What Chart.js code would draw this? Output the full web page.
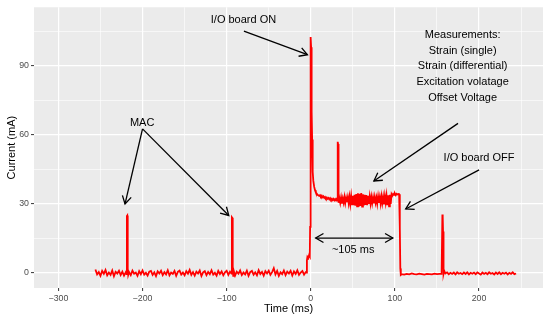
<!DOCTYPE html>
<html lang="en">
<head>
<meta charset="UTF-8">
<title>I/O board current</title>
<script src="https://cdn.jsdelivr.net/npm/chart.js"></script>
<style>
  html, body { margin: 0; padding: 0; background: #ffffff; }
  #wrap { width: 550px; height: 320px; }
</style>
</head>
<body>
<div id="wrap"><canvas id="chart" width="550" height="320"></canvas></div>
<script>
  const timeMs = [
    -256,-254,-252,-250,-248,-246,-244,-242,-240,-238,
    -236,-234,-232,-230,-228,-226,-224,-222,-220,
    -219,-218.6,-218.2,-217.8,-217.4,-217,
    -216,-214,-212,-210,-208,-206,-204,-202,-200,-198,
    -196,-194,-192,-190,-188,-186,-184,-182,-180,-178,
    -176,-174,-172,-170,-168,-166,-164,-162,-160,-158,
    -156,-154,-152,-150,-148,-146,-144,-142,-140,-138,
    -136,-134,-132,-130,-128,-126,-124,-122,-120,-118,
    -116,-114,-112,-110,-108,-106,-104,-102,-100,-98,
    -96,
    -94.2,-93.8,-93.4,-93,-92.6,-92.2,-91.6,
    -90,-88,-86,-84,-82,-80,-78,-76,-74,-72,
    -70,-68,-66,-64,-62,-60,-58,-56,-54,-52,
    -50,-48,-46,-44,-42,-40,-38,-36,-34,-32,
    -30,-28,-26,-24,-22,-20,-18,-16,-14,-12,
    -10,-8,-6,
    -5,-4.6,-4,-3,-2,-1.2,-0.8,-0.4,0,0.4,
    0.8,1.2,1.6,2,2.5,3,4,5,6,7,
    8,10,
    11,12,13,14,15,16,17,18,19,20,
    21,22,23,24,25,26,27,28,29,30,
    31,
    31.6,32,32.4,32.8,33.2,
    34,35,36,37,38,39,40,41,42,43,
    44,45,46,47,48,49,50,51,52,53,
    54,55,56,57,58,59,60,61,62,63,
    64,65,66,67,68,69,70,71,72,73,
    74,75,76,77,78,79,80,81,82,83,
    84,85,86,87,88,89,90,91,92,93,
    94,95,96,97,98,99,100,101,102,103,
    104,105,105.6,106,106.4,106.8,107.2,
    108,111,114,117,120,123,126,129,132,135,
    138,141,144,147,150,153,
    155.5,156.4,156.8,157.2,157.6,158,158.6,
    160,162,164,166,168,170,172,174,176,178,
    180,182,184,186,188,190,192,194,196,198,
    200,202,204,206,208,210,212,214,216,218,
    220,222,224,226,228,230,232,234,236,238,
    240,242,244
  ];
  const currentMa = [
    1.5,-0.6,0.4,-1.2,0.9,-0.3,1.3,-1.0,0.2,-0.8,
    1.1,-1.4,0.5,-0.2,1.0,-0.9,0.6,-1.1,0.3,
    -0.5,24.8,25,22,2,-0.8,
    0.4,-0.9,1.0,-0.3,0.2,-1.2,0.8,-0.5,1.1,-0.7,
    0.1,-1.1,0.6,0.9,-0.8,0.3,-1.3,0.7,-0.2,1.0,
    -0.9,0.4,-0.6,1.2,-1.0,0.2,-0.4,0.9,-1.2,0.5,
    1.0,-0.7,0.2,-1.0,0.8,-0.3,1.3,-0.8,0.4,-1.1,
    0.6,-0.2,1.1,-1.3,0.3,0.8,-0.9,0.5,-0.5,1.2,
    -0.7,0.1,-1.1,0.9,-0.4,0.7,-1.0,0.3,1.0,-0.8,
    0.6,
    -0.3,24.2,24,20,3,-1.2,1.0,
    -1.1,0.6,-0.3,1.1,-0.9,0.2,-0.6,1.0,-1.2,0.4,
    0.9,-0.7,0.3,-1.0,1.2,-0.4,0.5,-1.1,0.8,-0.2,
    1.0,-0.8,0.4,2.1,-0.6,0.9,-1.2,0.3,-0.5,1.1,
    -0.9,0.6,-0.2,1.0,-1.1,0.7,-0.4,1.2,-0.8,0.2,
    0.9,-0.7,0.4,
    0.2,5.5,7,6.5,7.8,7.2,20,60,102.5,98,
    85,70,58,50,44,40,37.5,36,35,34.5,
    34,33.5,
    33.8,33.2,33.6,32.9,33.3,32.6,33.0,32.4,32.8,32.2,
    32.6,32.0,32.5,31.9,32.3,31.7,32.2,31.6,32.1,31.5,
    32.0,
    31.8,57,56,32,30.5,
    32.5,30.5,32.8,30.2,32.4,30.6,33.0,30.4,32.6,30.8,
    32.9,30.3,33.1,30.0,33.4,29.8,33.6,29.5,34.0,29.2,
    34.3,29.0,34.6,28.8,34.4,29.1,34.7,28.9,34.2,29.4,
    34.0,29.6,33.8,29.5,33.5,30.0,33.2,30.2,33.0,30.4,
    32.8,30.3,33.0,30.6,32.7,30.1,33.2,30.5,32.9,30.2,
    33.3,30.4,33.0,29.8,33.4,30.6,33.6,29.5,33.8,29.0,
    34.0,30.0,34.3,33.6,34.4,34.0,34.5,33.8,34.4,34.1,
    34.3,34.2,33.8,20,2,-0.6,-0.8,
    -0.5,-0.7,-0.4,-0.6,-0.2,-0.5,-0.6,-0.3,-0.5,-0.7,
    -0.4,-0.5,-0.6,-0.3,-0.5,-0.4,
    -0.4,25.4,24.5,18,4,-0.3,1.0,
    -0.2,0.3,-0.5,0.1,-0.4,0.2,-0.6,0.3,-0.3,0.0,
    -0.5,0.2,-0.4,0.3,-0.6,0.1,-0.3,0.2,-0.5,0.3,
    -0.2,-0.7,0.2,-0.4,0.1,-0.5,0.3,-0.3,0.0,-0.6,
    0.2,-0.4,0.3,-0.5,0.1,-0.3,0.2,-0.6,0.1,-0.4,
    0.3,-0.5,-0.2
  ];

  const xTicks = [-300,-250,-200,-150,-100,-50,0,50,100,150,200,250];
  const xMajor = [-300,-200,-100,0,100,200];
  const yTicks = [0,15,30,45,60,75,90,105];
  const yMajor = [0,30,60,90];

  // annotations (data units)
  const noteTexts = ["I/O board ON", "Measurements:", "Strain (single)", "Strain (differential)",
                     "Excitation volatage", "Offset Voltage", "MAC", "I/O board OFF", "~105 ms"];
  const noteX = [-80, 180.5, 180.5, 180.5, 180.5, 180.5, -200.5, 200, 50.4];
  const noteY = [110, 103.3, 96.5, 89.7, 82.9, 76.1, 65, 50, 9.9];
  const arrowFrom = [[-79.5, 105], [175, 65], [-200, 62.6], [-200, 62.6], [200, 44.8], [5.8, 15.2]];
  const arrowTo   = [[-4, 94.8], [75, 40], [-220.8, 30], [-97.5, 25], [112.8, 27.8], [97.5, 15.2]];
  const arrowBoth = [false, false, false, false, false, true];

  const FONT = "'Liberation Sans', Arial, Helvetica, sans-serif";
  const fmt = v => v < 0 ? '\u2212' + Math.abs(v) : String(v);

  const panelBackground = {
    id: 'panelBackground',
    beforeDraw(chart) {
      const {ctx, chartArea: a} = chart;
      ctx.save();
      ctx.fillStyle = '#EBEBEB';
      ctx.fillRect(a.left, a.top, a.right - a.left, a.bottom - a.top);
      ctx.restore();
    }
  };

  function head(ctx, x1, y1, x2, y2) {
    const ang = Math.atan2(y2 - y1, x2 - x1);
    const L = 9;
    ctx.beginPath();
    ctx.moveTo(x2 - L * Math.cos(ang - Math.PI / 6), y2 - L * Math.sin(ang - Math.PI / 6));
    ctx.lineTo(x2, y2);
    ctx.lineTo(x2 - L * Math.cos(ang + Math.PI / 6), y2 - L * Math.sin(ang + Math.PI / 6));
    ctx.stroke();
  }

  const notes = {
    id: 'notes',
    afterDatasetsDraw(chart) {
      const {ctx, scales: {x, y}} = chart;
      ctx.save();
      ctx.strokeStyle = '#000000';
      ctx.lineWidth = 1.3;
      ctx.lineCap = 'butt';
      arrowFrom.forEach((f, i) => {
        const x1 = x.getPixelForValue(f[0]), y1 = y.getPixelForValue(f[1]);
        const x2 = x.getPixelForValue(arrowTo[i][0]), y2 = y.getPixelForValue(arrowTo[i][1]);
        ctx.beginPath();
        ctx.moveTo(x1, y1);
        ctx.lineTo(x2, y2);
        ctx.stroke();
        head(ctx, x1, y1, x2, y2);
        if (arrowBoth[i]) head(ctx, x2, y2, x1, y1);
      });
      ctx.fillStyle = '#000000';
      ctx.font = '11px ' + FONT;
      ctx.textAlign = 'center';
      ctx.textBaseline = 'middle';
      noteTexts.forEach((t, i) => {
        ctx.fillText(t, x.getPixelForValue(noteX[i]), y.getPixelForValue(noteY[i]));
      });
      ctx.restore();
    }
  };

  const isMajor = (list, c) => c.tick && list.includes(c.tick.value);

  new Chart(document.getElementById('chart'), {
    type: 'line',
    data: {
      datasets: [{
        data: timeMs.map((t, i) => ({x: t, y: currentMa[i]})),
        borderColor: '#FF0000',
        borderWidth: 1.8,
        pointRadius: 0,
        tension: 0,
        fill: false
      }]
    },
    options: {
      responsive: false,
      animation: false,
      layout: { padding: { top: 5, right: 7, bottom: 0, left: 0 } },
      plugins: { legend: { display: false }, tooltip: { enabled: false } },
      scales: {
        x: {
          type: 'linear',
          min: -329,
          max: 276,
          afterBuildTicks: s => { s.ticks = xTicks.map(v => ({value: v})); },
          afterFit: s => { s.height = 32; },
          border: { display: false },
          grid: {
            color: '#FFFFFF',
            lineWidth: c => isMajor(xMajor, c) ? 1.2 : 0.6,
            tickColor: c => isMajor(xMajor, c) ? '#333333' : 'rgba(0,0,0,0)',
            tickLength: 3,
            tickWidth: 1
          },
          ticks: {
            autoSkip: false,
            maxRotation: 0,
            padding: 2,
            color: '#4D4D4D',
            font: { family: FONT, size: 8.8 },
            callback: v => xMajor.includes(v) ? fmt(v) : ''
          },
          title: {
            display: true,
            text: 'Time (ms)',
            color: '#000000',
            font: { family: FONT, size: 11 },
            padding: { top: 0, bottom: 4 }
          }
        },
        y: {
          type: 'linear',
          min: -6.5,
          max: 115.4,
          afterBuildTicks: s => { s.ticks = yTicks.map(v => ({value: v})); },
          afterFit: s => { s.width = 34; },
          border: { display: false },
          grid: {
            color: '#FFFFFF',
            lineWidth: c => isMajor(yMajor, c) ? 1.2 : 0.6,
            tickColor: c => isMajor(yMajor, c) ? '#333333' : 'rgba(0,0,0,0)',
            tickLength: 3,
            tickWidth: 1
          },
          ticks: {
            autoSkip: false,
            padding: 2,
            color: '#4D4D4D',
            font: { family: FONT, size: 8.8 },
            callback: v => yMajor.includes(v) ? fmt(v) : ''
          },
          title: {
            display: true,
            text: 'Current (mA)',
            color: '#000000',
            font: { family: FONT, size: 11 },
            padding: { top: 5, bottom: 0 }
          }
        }
      }
    },
    plugins: [panelBackground, notes]
  });
</script>
</body>
</html>
